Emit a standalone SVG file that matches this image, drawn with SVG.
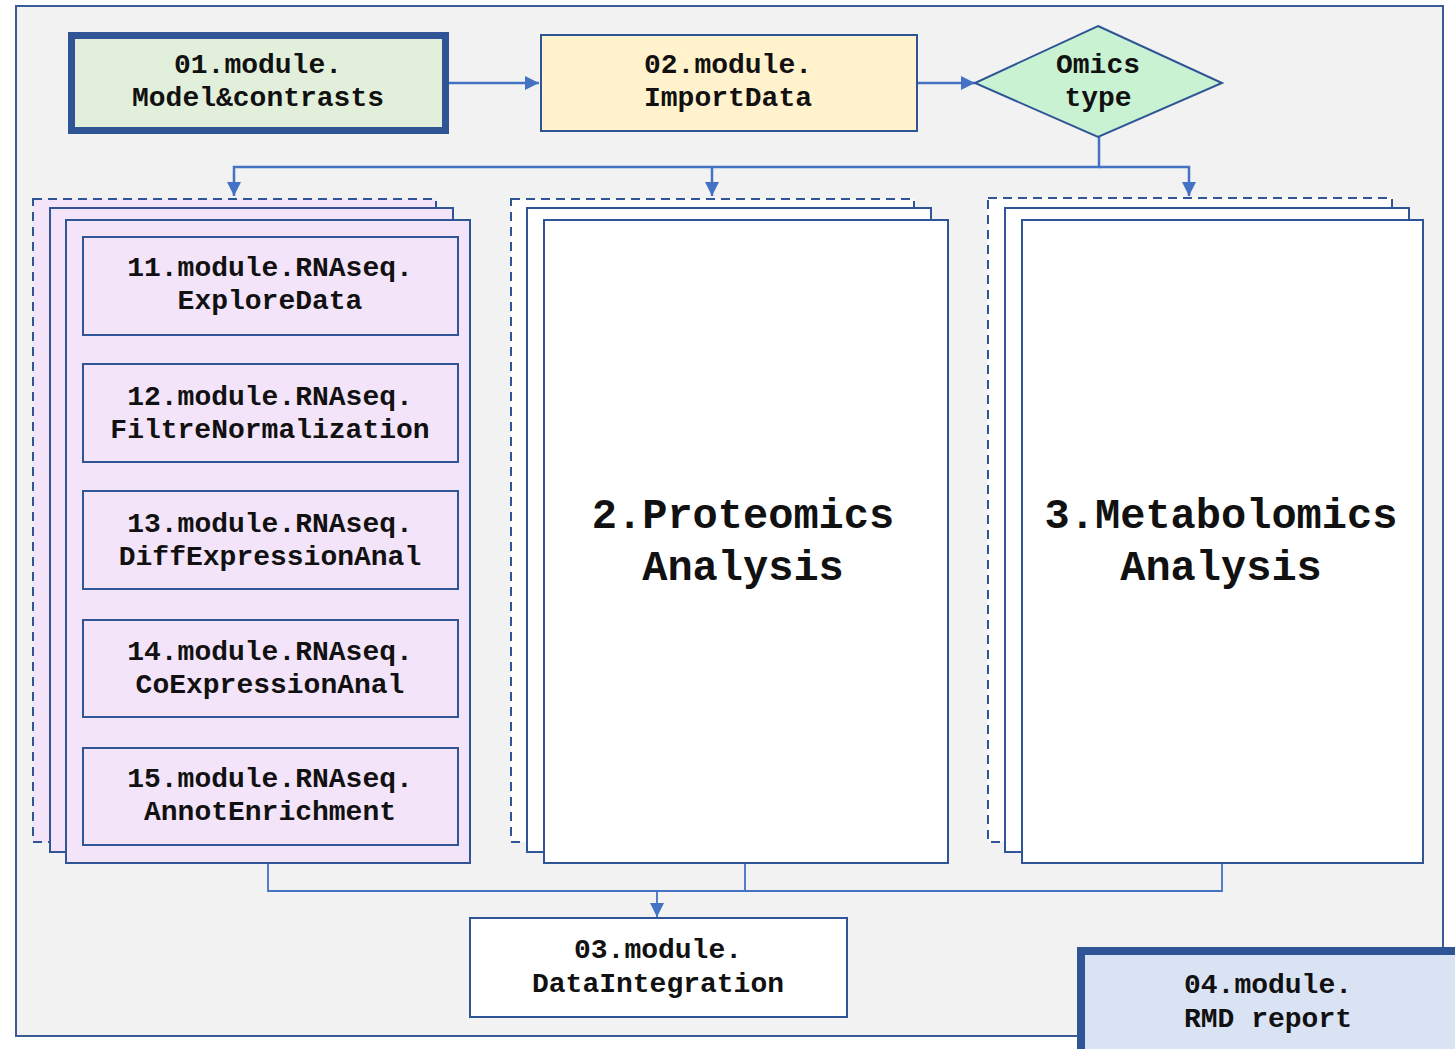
<svg xmlns="http://www.w3.org/2000/svg" width="1455" height="1049" viewBox="0 0 1455 1049">
<defs>
<marker id="ah" markerUnits="userSpaceOnUse" markerWidth="14" markerHeight="14" viewBox="0 0 14 14" refX="14" refY="7" orient="auto">
<path d="M0,0 L14,7 L0,14 z" fill="#4472c4"/>
</marker>
</defs>
<style>
.box{stroke:#2f5597;stroke-width:2}
.thick{stroke:#2f5597;stroke-width:7}
.dash{stroke:#2f5597;stroke-width:2;stroke-dasharray:9,6}
.conn{fill:none;stroke:#4472c4;stroke-width:2.5}
.conn2{fill:none;stroke:#4472c4;stroke-width:1.8}
.t{font-family:"Liberation Mono","Courier New",monospace;font-weight:bold;font-size:28px;fill:#111;text-anchor:middle}
.big{font-family:"Liberation Mono","Courier New",monospace;font-weight:bold;font-size:42px;fill:#111;text-anchor:middle}
.pink{fill:#f3e4fa}
.white{fill:#ffffff}
</style>
<rect x="16" y="6" width="1427" height="1030" fill="#f2f2f2" stroke="#3b5b94" stroke-width="2"/>

<g id="connectors">
<path class="conn" d="M449,83 H539" marker-end="url(#ah)"/>
<path class="conn" d="M917,83 H975" marker-end="url(#ah)"/>
<path class="conn" d="M1099,137 V167 H234 V196" marker-end="url(#ah)"/>
<path class="conn" d="M712,167 V196" marker-end="url(#ah)"/>
<path class="conn" d="M1099,167 H1189 V196" marker-end="url(#ah)"/>
<path class="conn2" d="M268,863 V891 H1222 V863"/>
<path class="conn2" d="M745,863 V891"/>
<path class="conn2" d="M657,891 V917" marker-end="url(#ah)"/>
</g>

<g id="n01">
<rect class="thick" x="71.5" y="35.5" width="374" height="95" fill="#e2efda"/>
<text class="t" x="258" y="73">01.module.</text>
<text class="t" x="258" y="106">Model&amp;contrasts</text>
</g>

<g id="n02">
<rect class="box" x="541" y="35" width="376" height="96" fill="#fff2cc"/>
<text class="t" x="728" y="73">02.module.</text>
<text class="t" x="728" y="106">ImportData</text>
</g>

<g id="omics">
<polygon class="box" points="1098,26 1222,83 1098,137 975,83" fill="#c9f2d2"/>
<text class="t" x="1098" y="73">Omics</text>
<text class="t" x="1098" y="106">type</text>
</g>

<g id="rnaseq">
<rect class="dash pink" x="33" y="199" width="403" height="643"/>
<rect class="box pink" x="50" y="208" width="403" height="644"/>
<rect class="box pink" x="66" y="220" width="404" height="643"/>
<g id="n11">
<rect class="box pink" x="83" y="237" width="375" height="98"/>
<text class="t" x="270" y="276">11.module.RNAseq.</text>
<text class="t" x="270" y="309">ExploreData</text>
</g>
<g id="n12">
<rect class="box pink" x="83" y="364" width="375" height="98"/>
<text class="t" x="270" y="405">12.module.RNAseq.</text>
<text class="t" x="270" y="438">FiltreNormalization</text>
</g>
<g id="n13">
<rect class="box pink" x="83" y="491" width="375" height="98"/>
<text class="t" x="270" y="532">13.module.RNAseq.</text>
<text class="t" x="270" y="565">DiffExpressionAnal</text>
</g>
<g id="n14">
<rect class="box pink" x="83" y="620" width="375" height="97"/>
<text class="t" x="270" y="660">14.module.RNAseq.</text>
<text class="t" x="270" y="693">CoExpressionAnal</text>
</g>
<g id="n15">
<rect class="box pink" x="83" y="748" width="375" height="97"/>
<text class="t" x="270" y="787">15.module.RNAseq.</text>
<text class="t" x="270" y="820">AnnotEnrichment</text>
</g>
</g>

<g id="proteomics">
<rect class="dash white" x="511" y="199" width="403" height="643"/>
<rect class="box white" x="527" y="208" width="404" height="644"/>
<rect class="box white" x="544" y="220" width="404" height="643"/>
<text class="big" x="743" y="528">2.Proteomics</text>
<text class="big" x="743" y="580">Analysis</text>
</g>

<g id="metabolomics">
<rect class="dash white" x="988" y="198" width="404" height="644"/>
<rect class="box white" x="1005" y="208" width="404" height="644"/>
<rect class="box white" x="1022" y="220" width="401" height="643"/>
<text class="big" x="1221" y="528">3.Metabolomics</text>
<text class="big" x="1221" y="580">Analysis</text>
</g>

<g id="n03">
<rect class="box white" x="470" y="918" width="377" height="99"/>
<text class="t" x="658" y="958">03.module.</text>
<text class="t" x="658" y="992">DataIntegration</text>
</g>

<g id="n04">
<rect x="1081" y="951" width="380" height="102" fill="#dae3f3" stroke="#2f5597" stroke-width="8"/>
<text class="t" x="1268" y="993">04.module.</text>
<text class="t" x="1268" y="1027">RMD report</text>
</g>
</svg>
